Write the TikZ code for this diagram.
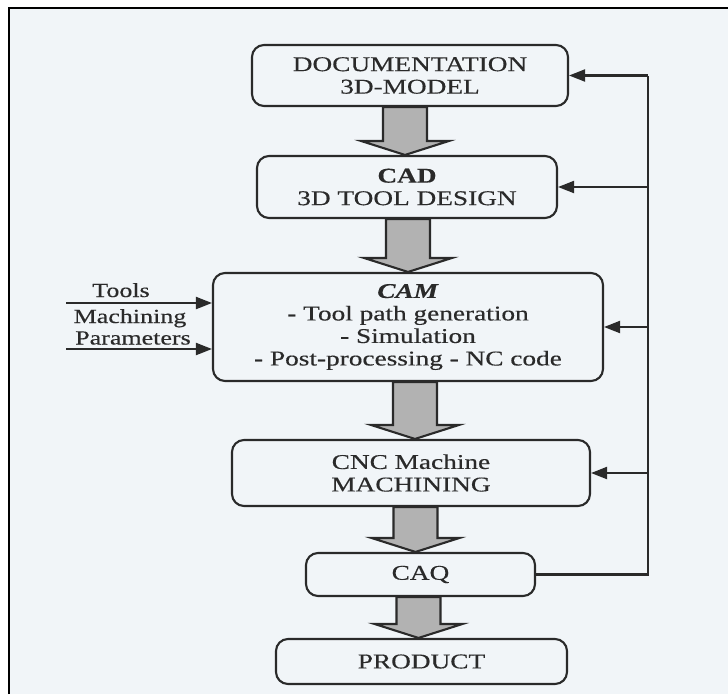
\documentclass[tikz,border=0pt]{standalone}
\usepackage{fontspec}
\setmainfont{Liberation Serif}[FakeStretch=1.3,FakeBold=0.4]
\usetikzlibrary{arrows.meta,calc}
\definecolor{paper}{HTML}{F1F5F8}
\definecolor{ink}{HTML}{2A2A2A}
\definecolor{fatgray}{HTML}{B2B2B2}
\begin{document}
\begin{tikzpicture}[x=1pt,y=-1pt,
  stagebox/.style={draw=ink,line width=2.1pt,rounded corners=12pt,fill=paper,
    align=center,inner sep=0pt,text=ink,font=\fontsize{21}{22.5}\selectfont},
  fb/.style={draw=ink,line width=2.1pt},
  fbarrow/.style={fb,-{Triangle[length=16pt,width=12pt]}},
  inlabel/.style={inner sep=0pt,text=ink,font=\fontsize{20}{22}\selectfont},
  fat/.style={draw=ink,line width=2.1pt,fill=fatgray,line join=miter}]

% page and frame
\useasboundingbox (0,0) rectangle (728,694);
\fill[white] (0,0) rectangle (728,694);
\fill[paper] (9,8) rectangle (728,694);
\draw[black,line width=2.8pt] (9,694) -- (9,8) -- (728,8);

% process stages
\node[stagebox,minimum width=316pt,minimum height=61pt] (doc) at (410,75.5)
  {DOCUMENTATION\\3D-MODEL};
\node[stagebox,minimum width=300pt,minimum height=62pt] (cad) at (407,187)
  {\textbf{CAD}\\3D TOOL DESIGN};
\node[stagebox,minimum width=390pt,minimum height=108pt] (cam) at (408,327)
  {\textbf{\textit{CAM}}\\- Tool path generation\\- Simulation\\- Post-processing - NC code};
\node[stagebox,minimum width=358pt,minimum height=66pt] (cnc) at (411,473)
  {CNC Machine\\MACHINING};
\node[stagebox,minimum width=229pt,minimum height=43pt] (caq) at (420.5,574.5)
  {CAQ};
\node[stagebox,minimum width=291pt,minimum height=45pt] (prod) at (421.5,661.5)
  {PRODUCT};

% wide grey flow arrows between stages
\newcommand\fatarrow[3]{%
  \draw[fat] let \p1=(#1.south), \p2=(#2.north) in
    (#3pt-22pt,\y1) -- (#3pt+22pt,\y1) -- (#3pt+22pt,\y2+14pt)
    -- (#3pt+44pt,\y2+14pt) -- (#3pt,\y2) -- (#3pt-44pt,\y2+14pt)
    -- (#3pt-22pt,\y2+14pt) -- cycle;}
\fatarrow{doc}{cad}{405}
\fatarrow{cad}{cam}{408}
\fatarrow{cam}{cnc}{415}
\fatarrow{cnc}{caq}{415.5}
\fatarrow{caq}{prod}{418.5}

% feedback loop from quality control
\coordinate (fbx) at (648,0);
\draw[fb] (caq.east) -- (caq.east -| fbx) -- (fbx |- doc.east);
\draw[fbarrow] (fbx |- doc.east) -- (doc.east);
\draw[fbarrow] (fbx |- cad.east) -- (cad.east);
\draw[fbarrow] (fbx |- cam.east) -- (cam.east);
\draw[fbarrow] (fbx |- cnc.east) -- (cnc.east);

% CAM inputs
\coordinate (intop) at (66,303);
\coordinate (inbot) at (66,349);
\draw[fbarrow] (intop) -- (intop -| cam.west);
\draw[fbarrow] (inbot) -- (inbot -| cam.west);
\node[inlabel,anchor=base] (ltools) at (121,297) {Tools};
\node[inlabel,anchor=base] (lmach) at (130,323) {Machining};
\node[inlabel,anchor=base] (lparam) at (133,344.5) {Parameters};
\end{tikzpicture}
\end{document}
